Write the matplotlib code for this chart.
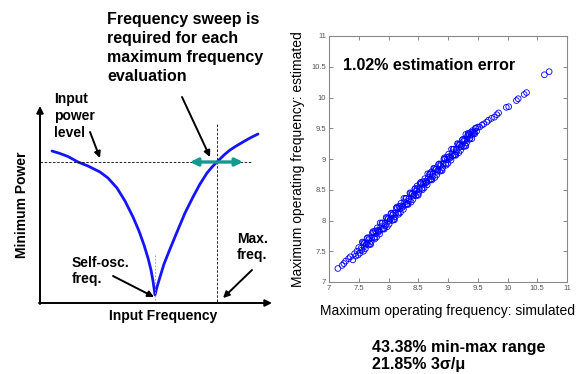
import matplotlib.pyplot as plt

plt.rcParams['font.family'] = ['Liberation Sans', 'DejaVu Sans']

# scatter data: simulated vs estimated max operating frequency
sim = [7.15, 7.22, 7.25, 7.28, 7.33, 7.36, 7.40, 7.43, 7.45, 7.47, 7.49,
       # dense band, pass A
       7.50, 7.52, 7.54, 7.56, 7.58, 7.60, 7.62, 7.64, 7.66, 7.68,
       7.70, 7.72, 7.74, 7.76, 7.78, 7.80, 7.82, 7.84, 7.86, 7.88,
       7.90, 7.92, 7.94, 7.96, 7.98, 8.00, 8.02, 8.04, 8.06, 8.08,
       8.10, 8.12, 8.14, 8.16, 8.18, 8.20, 8.22, 8.24, 8.26, 8.28,
       8.30, 8.32, 8.34, 8.36, 8.38, 8.40, 8.42, 8.44, 8.46, 8.48,
       8.50, 8.52, 8.54, 8.56, 8.58, 8.60, 8.62, 8.64, 8.66, 8.68,
       8.70, 8.72, 8.74, 8.76, 8.78, 8.80, 8.82, 8.84, 8.86, 8.88,
       8.90, 8.92, 8.94, 8.96, 8.98, 9.00, 9.02, 9.04, 9.06, 9.08,
       9.10, 9.12, 9.14, 9.16, 9.18, 9.20, 9.22, 9.24, 9.26, 9.28,
       9.30, 9.32, 9.34, 9.36, 9.38, 9.40, 9.42, 9.44, 9.46, 9.48, 9.50,
       # dense band, pass B
       7.55, 7.59, 7.63, 7.67, 7.71, 7.75, 7.79, 7.83, 7.87, 7.91,
       7.95, 7.99, 8.03, 8.07, 8.11, 8.15, 8.19, 8.23, 8.27, 8.31,
       8.35, 8.39, 8.43, 8.47, 8.51, 8.55, 8.59, 8.63, 8.67, 8.71,
       8.75, 8.79, 8.83, 8.87, 8.91, 8.95, 8.99, 9.03, 9.07, 9.11,
       9.15, 9.19, 9.23, 9.27, 9.31, 9.35, 9.39, 9.43, 9.47,
       # dense band, pass C
       7.57, 7.61, 7.65, 7.69, 7.73, 7.77, 7.81, 7.85, 7.89, 7.93,
       7.97, 8.01, 8.05, 8.09, 8.13, 8.17, 8.21, 8.25, 8.29, 8.33,
       8.37, 8.41, 8.45, 8.49, 8.53, 8.57, 8.61, 8.65, 8.69, 8.73,
       8.77, 8.81, 8.85, 8.89, 8.93, 8.97, 9.01, 9.05, 9.09, 9.13,
       9.17, 9.21, 9.25, 9.29, 9.33, 9.37, 9.41, 9.45,
       8.48, 8.72, 9.30, 9.33,
       # upper tail
       9.53, 9.57, 9.60, 9.65, 9.68, 9.73, 9.78, 9.82, 9.85, 9.98,
       10.02, 10.15, 10.18, 10.28, 10.32, 10.62, 10.70]
est = [7.22, 7.27, 7.30, 7.34, 7.38, 7.41, 7.36, 7.46, 7.42, 7.50, 7.44,
       7.56, 7.47, 7.55, 7.65, 7.50, 7.63, 7.60, 7.71, 7.60, 7.72,
       7.61, 7.72, 7.82, 7.72, 7.83, 7.73, 7.84, 7.83, 7.96, 7.85,
       7.96, 7.87, 7.95, 8.05, 7.90, 8.03, 8.00, 8.11, 8.00, 8.12,
       8.01, 8.12, 8.22, 8.12, 8.23, 8.13, 8.24, 8.23, 8.36, 8.25,
       8.36, 8.27, 8.35, 8.45, 8.30, 8.43, 8.40, 8.51, 8.40, 8.52,
       8.41, 8.52, 8.62, 8.52, 8.63, 8.53, 8.64, 8.63, 8.76, 8.65,
       8.76, 8.67, 8.75, 8.85, 8.70, 8.83, 8.80, 8.91, 8.80, 8.92,
       8.81, 8.92, 9.02, 8.92, 9.03, 8.93, 9.04, 9.03, 9.16, 9.05,
       9.16, 9.07, 9.15, 9.25, 9.10, 9.23, 9.20, 9.31, 9.20, 9.32,
       9.21, 9.32, 9.42, 9.32, 9.43, 9.33, 9.44, 9.43, 9.50, 9.45, 9.52,
       7.52, 7.63, 7.62, 7.69, 7.66, 7.80, 7.79, 7.81, 7.90, 7.87,
       7.92, 8.03, 8.02, 8.09, 8.06, 8.20, 8.19, 8.21, 8.30, 8.27,
       8.32, 8.43, 8.42, 8.49, 8.46, 8.60, 8.59, 8.61, 8.70, 8.67,
       8.72, 8.83, 8.82, 8.89, 8.86, 9.00, 8.99, 9.01, 9.10, 9.07,
       9.12, 9.23, 9.22, 9.29, 9.26, 9.40, 9.39, 9.41, 9.50,
       7.64, 7.54, 7.72, 7.62, 7.80, 7.70, 7.88, 7.78, 7.96, 7.86,
       8.04, 7.94, 8.12, 8.02, 8.20, 8.10, 8.28, 8.18, 8.36, 8.26,
       8.44, 8.34, 8.52, 8.42, 8.60, 8.50, 8.68, 8.58, 8.76, 8.66,
       8.84, 8.74, 8.92, 8.82, 9.00, 8.90, 9.08, 8.98, 9.16, 9.06,
       9.24, 9.14, 9.32, 9.22, 9.36, 9.34, 9.46, 9.41,
       8.56, 8.79, 9.40, 9.38,
       9.52, 9.55, 9.57, 9.60, 9.63, 9.66, 9.68, 9.72, 9.75, 9.84,
       9.85, 9.95, 9.98, 10.05, 10.08, 10.37, 10.42]
ticks = [7, 7.5, 8, 8.5, 9, 9.5, 10, 10.5, 11]
tick_labels = ['7', '7.5', '8', '8.5', '9', '9.5', '10', '10.5', '11']

# schematic curve (drawn in figure pixel units, y downward)
curve_x = [52, 60, 68, 78, 88, 100, 108, 117, 125, 133, 139, 144, 148, 151, 153, 155,
           157, 160, 164, 170, 177, 185, 193, 200, 207, 212, 217, 224, 230, 237, 243, 250, 258]
curve_y = [151, 153.5, 156.5, 162, 166, 172, 178, 188, 201, 217, 231, 245, 258, 270, 281, 295,
           287, 277, 264, 249, 232, 213, 197, 184, 173, 167, 162, 155, 150, 145.5, 142, 138, 134]

W, H = 584, 374
fig = plt.figure(figsize=(W / 100, H / 100), dpi=100)

# scatter axes
ax = fig.add_axes([329 / W, 1 - 282 / H, 238 / W, 246 / H])
ax.scatter(sim, est, s=17, facecolors='none', edgecolors='#0000ff', linewidths=0.6)
ax.set_xlim(7, 11)
ax.set_ylim(7, 11)
ax.set_xticks(ticks)
ax.set_xticklabels(tick_labels)
ax.set_yticks(ticks)
ax.set_yticklabels(tick_labels)
ax.tick_params(direction='in', length=3, width=0.6, colors='#777777',
               labelsize=5.5, labelcolor='#555555', top=True, right=True, pad=2)
for s in ax.spines.values():
    s.set_color('#888888')
    s.set_linewidth(0.8)
ax.set_xlabel('Maximum operating frequency: simulated', fontsize=10, labelpad=9)
ax.set_ylabel('Maximum operating frequency: estimated', fontsize=10, labelpad=5)

# overlay axes in pixel coordinates for the schematic and annotations
ax0 = fig.add_axes([0, 0, 1, 1])
ax0.set_xlim(0, W)
ax0.set_ylim(H, 0)
ax0.axis('off')
ax0.set_zorder(5)

ax0.plot(curve_x, curve_y, color='#1414ff', lw=2.0, solid_capstyle='round')
ax0.plot([40, 252], [162, 162], color='k', lw=0.6, ls=(0, (3, 2)))
ax0.plot([217, 217], [124, 303], color='k', lw=0.6, ls=(0, (3, 2)))
ax0.plot([155, 155], [255, 300], color='#999999', lw=0.6, ls=(0, (2, 2)))

def arrow(x0, y0, x1, y1, color='k', lw=1.4, style='-|>', ms=10):
    ax0.annotate('', xy=(x1, y1), xytext=(x0, y0),
                 arrowprops=dict(arrowstyle=style, color=color, lw=lw,
                                 mutation_scale=ms, shrinkA=0, shrinkB=0))

arrow(40, 304, 40, 106)
arrow(39, 303, 272, 303)
arrow(90, 132, 100, 158, ms=9)
arrow(182, 97, 210, 157, ms=9)
arrow(113, 276, 154, 297, ms=9)
arrow(252, 270, 223, 298, ms=9)
arrow(190, 162, 243, 162, color='#139a8e', lw=2.4, style='<|-|>', ms=11)

def lines(x, y0, step, texts, size):
    for i, t in enumerate(texts):
        ax0.text(x, y0 + i * step, t, fontsize=size, fontweight='bold',
                 va='baseline', ha='left')

lines(107, 24, 19, ['Frequency sweep is', 'required for each',
                    'maximum frequency', 'evaluation'], 11.5)
lines(54, 103, 17, ['Input', 'power', 'level'], 10)
lines(72, 267, 16.5, ['Self-osc.', 'freq.'], 10)
lines(237, 243, 16.5, ['Max.', 'freq.'], 10)
ax0.text(163, 320, 'Input Frequency', fontsize=10, fontweight='bold',
         ha='center', va='baseline')
ax0.text(22, 205, 'Minimum Power', fontsize=10, fontweight='bold',
         rotation=90, ha='center', va='center')
ax0.text(343, 70, '1.02% estimation error', fontsize=11.5, fontweight='bold',
         va='baseline')
lines(372, 352, 17, ['43.38% min-max range', '21.85% 3\u03c3/\u03bc'], 11.5)

fig.savefig('out.png', dpi=100)
